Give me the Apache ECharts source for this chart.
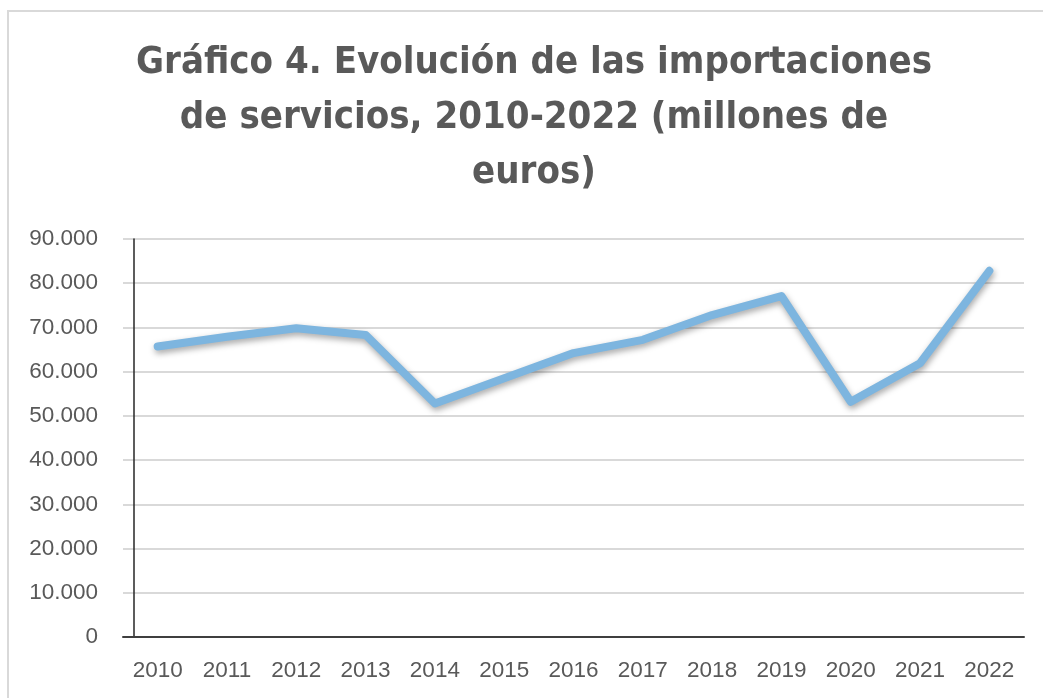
<!DOCTYPE html>
<html>
<head>
<meta charset="utf-8">
<script src="https://cdn.jsdelivr.net/npm/echarts@6/dist/echarts.min.js"></script>
<style>
html,body{margin:0;padding:0;background:#fff;}
#frame{position:absolute;left:7px;top:10px;width:1100px;height:760px;border-top:2px solid #d9d9d9;border-left:2px solid #d9d9d9;}
#chart{position:absolute;left:0;top:0;width:1043px;height:698px;}
</style>
</head>
<body>
<div id="frame"></div>
<div id="chart"></div>
<script>
var titleText = 'Gráfico 4. Evolución de las importaciones\nde servicios, 2010-2022 (millones de\neuros)';
var years = ['2010','2011','2012','2013','2014','2015','2016','2017','2018','2019','2020','2021','2022'];
var imports = [65700, 67900, 69800, 68300, 52800, 58500, 64200, 67200, 72800, 77100, 53200, 61900, 82800];

function fmt(v){ return v === 0 ? '0' : String(v).replace(/\B(?=(\d{3})+(?!\d))/g, '.'); }

var chart = echarts.init(document.getElementById('chart'), null, {renderer:'canvas'});
chart.setOption({
  backgroundColor: 'transparent',
  animation: false,
  title: {
    text: titleText,
    left: 534,
    textAlign: 'center',
    top: 36,
    padding: 0,
    textStyle: {
      fontFamily: '"DejaVu Sans Condensed", "Liberation Sans Narrow", Roboto, sans-serif',
      fontWeight: 'bold',
      fontSize: 38,
      lineHeight: 55,
      color: '#595959'
    }
  },
  grid: { left: 123, right: 19, top: 239, bottom: 61, containLabel: false },
  xAxis: {
    type: 'category',
    data: years,
    boundaryGap: true,
    axisLine: { show: true, lineStyle: { color: '#3f3f3f', width: 2 } },
    axisTick: { show: false },
    axisLabel: { color: '#595959', fontSize: 22.5, fontFamily: '"Liberation Sans", Arial, sans-serif', margin: 22 }
  },
  yAxis: [{
    type: 'value',
    min: 0, max: 90000, interval: 10000,
    axisLine: { show: false },
    axisTick: { show: false },
    splitLine: { lineStyle: { color: '#d9d9d9', width: 2 } },
    axisLabel: { color: '#595959', fontSize: 22.5, fontFamily: '"Liberation Sans", Arial, sans-serif', margin: 25, formatter: fmt }
  }, {
    type: 'value',
    position: 'left',
    offset: -11,
    min: 0, max: 90000, interval: 10000,
    axisLine: { show: true, lineStyle: { color: '#262626', width: 1.5 } },
    axisTick: { show: false },
    axisLabel: { show: false },
    splitLine: { show: false }
  }],
  series: [{
    type: 'line',
    data: imports,
    symbol: 'none',
    lineStyle: {
      color: '#7db5df',
      width: 8,
      cap: 'round',
      join: 'round',
      shadowColor: 'rgba(0,0,0,0.35)',
      shadowBlur: 6,
      shadowOffsetX: 1,
      shadowOffsetY: 3
    }
  }]
});
</script>
</body>
</html>
